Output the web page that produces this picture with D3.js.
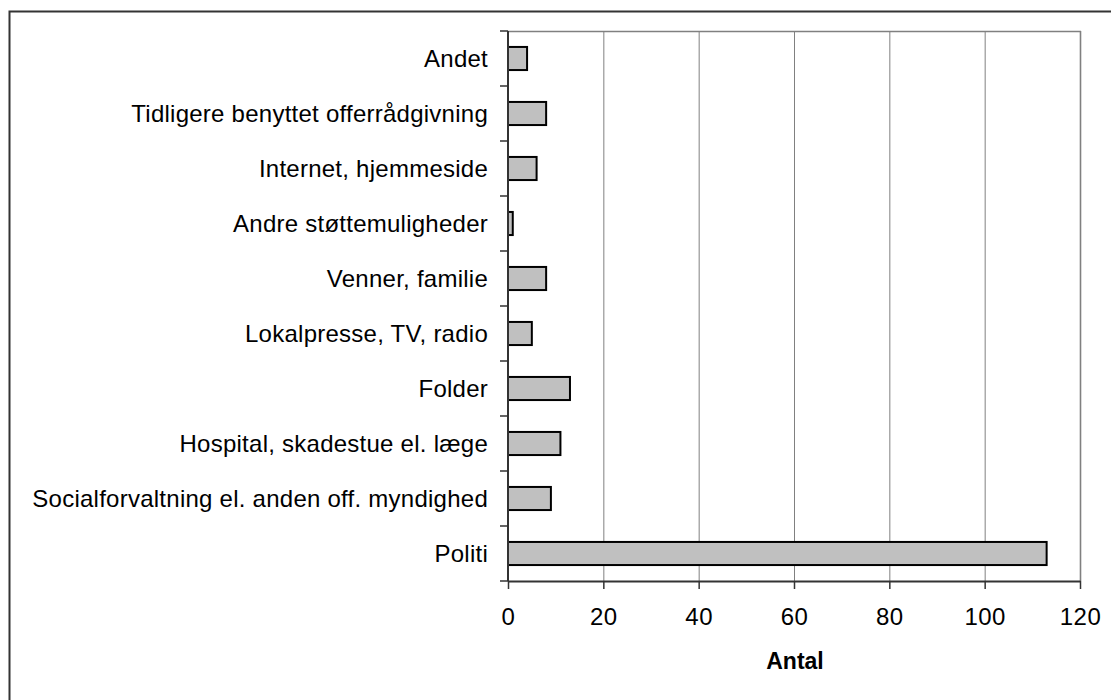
<!DOCTYPE html>
<html>
<head>
<meta charset="utf-8">
<script src="https://cdn.jsdelivr.net/npm/d3@7"></script>
<style>
  body { margin: 0; background: #fff; }
  svg { display: block; font-family: "Liberation Sans", Arial, sans-serif; }
</style>
</head>
<body>
<svg id="chart" width="1111" height="700"></svg>
<script>
// categories, top to bottom
const categories = [
  "Andet",
  "Tidligere benyttet offerrådgivning",
  "Internet, hjemmeside",
  "Andre støttemuligheder",
  "Venner, familie",
  "Lokalpresse, TV, radio",
  "Folder",
  "Hospital, skadestue el. læge",
  "Socialforvaltning el. anden off. myndighed",
  "Politi"
];
const counts = [4, 8, 6, 1, 8, 5, 13, 11, 9, 113];
const xTicks = [0, 20, 40, 60, 80, 100, 120];
const xTitle = "Antal";

const svg = d3.select("#chart");
const plot = { left: 508, right: 1080, top: 31, bottom: 581 };

// outer frame (only left/top edge are inside the picture)
svg.append("path")
  .attr("d", "M9.5,700 V11.5 H1111")
  .attr("fill", "none")
  .attr("stroke", "#333")
  .attr("stroke-width", 2);

const x = d3.scaleLinear().domain([0, 120]).range([plot.left, plot.right]);
const y = d3.scaleBand()
  .domain(categories)
  .range([plot.top, plot.bottom])
  .paddingInner(0.58)
  .paddingOuter(0.29);

// vertical gridlines
svg.append("g")
  .selectAll("line")
  .data(xTicks.filter(d => d > 0))
  .enter()
  .append("line")
  .attr("x1", d => x(d) + 0.5)
  .attr("x2", d => x(d) + 0.5)
  .attr("y1", plot.top)
  .attr("y2", plot.bottom)
  .attr("stroke", "#808080")
  .attr("stroke-width", d => d === 120 ? 1.6 : 1);

// top edge of plot area
svg.append("line")
  .attr("x1", plot.left).attr("x2", plot.right + 1)
  .attr("y1", plot.top + 0.5).attr("y2", plot.top + 0.5)
  .attr("stroke", "#808080")
  .attr("stroke-width", 1.6);

// bars
svg.append("g")
  .selectAll("rect")
  .data(categories)
  .enter()
  .append("rect")
  .attr("x", x(0))
  .attr("y", d => y(d))
  .attr("width", (d, i) => x(counts[i]) - x(0))
  .attr("height", y.bandwidth())
  .attr("fill", "#c0c0c0")
  .attr("stroke", "#000")
  .attr("stroke-width", 2);

// y axis: line, ticks at band boundaries, labels
const step = y.step();
const boundaries = d3.range(categories.length + 1).map(i => plot.top + i * step);
svg.append("line")
  .attr("x1", plot.left).attr("x2", plot.left)
  .attr("y1", plot.top).attr("y2", plot.bottom)
  .attr("stroke", "#333").attr("stroke-width", 2);
svg.append("g")
  .selectAll("line")
  .data(boundaries)
  .enter()
  .append("line")
  .attr("x1", plot.left - 8).attr("x2", plot.left)
  .attr("y1", d => d).attr("y2", d => d)
  .attr("stroke", "#333").attr("stroke-width", 1.5);
svg.append("g")
  .selectAll("text")
  .data(categories)
  .enter()
  .append("text")
  .attr("x", 488)
  .attr("y", d => y(d) + y.bandwidth() / 2)
  .attr("dy", "0.35em")
  .attr("text-anchor", "end")
  .attr("font-size", "24px")
  .attr("letter-spacing", "0.25px")
  .attr("fill", "#000")
  .text(d => d);

// x axis
const xAxis = d3.axisBottom(x)
  .tickValues(xTicks)
  .tickSize(8)
  .tickPadding(19)
  .tickSizeOuter(0);
const gx = svg.append("g")
  .attr("transform", `translate(0,${plot.bottom})`)
  .call(xAxis);
gx.select(".domain").attr("stroke", "#333").attr("stroke-width", 2);
gx.selectAll(".tick line").attr("stroke", "#333").attr("stroke-width", 1.5);
gx.selectAll(".tick text")
  .attr("font-size", "24px")
  .attr("letter-spacing", "0.5px")
  .attr("font-family", "Liberation Sans, Arial, sans-serif")
  .attr("fill", "#000");

svg.append("text")
  .attr("x", (plot.left + plot.right) / 2 + 1)
  .attr("y", 669)
  .attr("text-anchor", "middle")
  .attr("font-size", "23px")
  .attr("font-weight", "bold")
  .text(xTitle);
</script>
</body>
</html>
